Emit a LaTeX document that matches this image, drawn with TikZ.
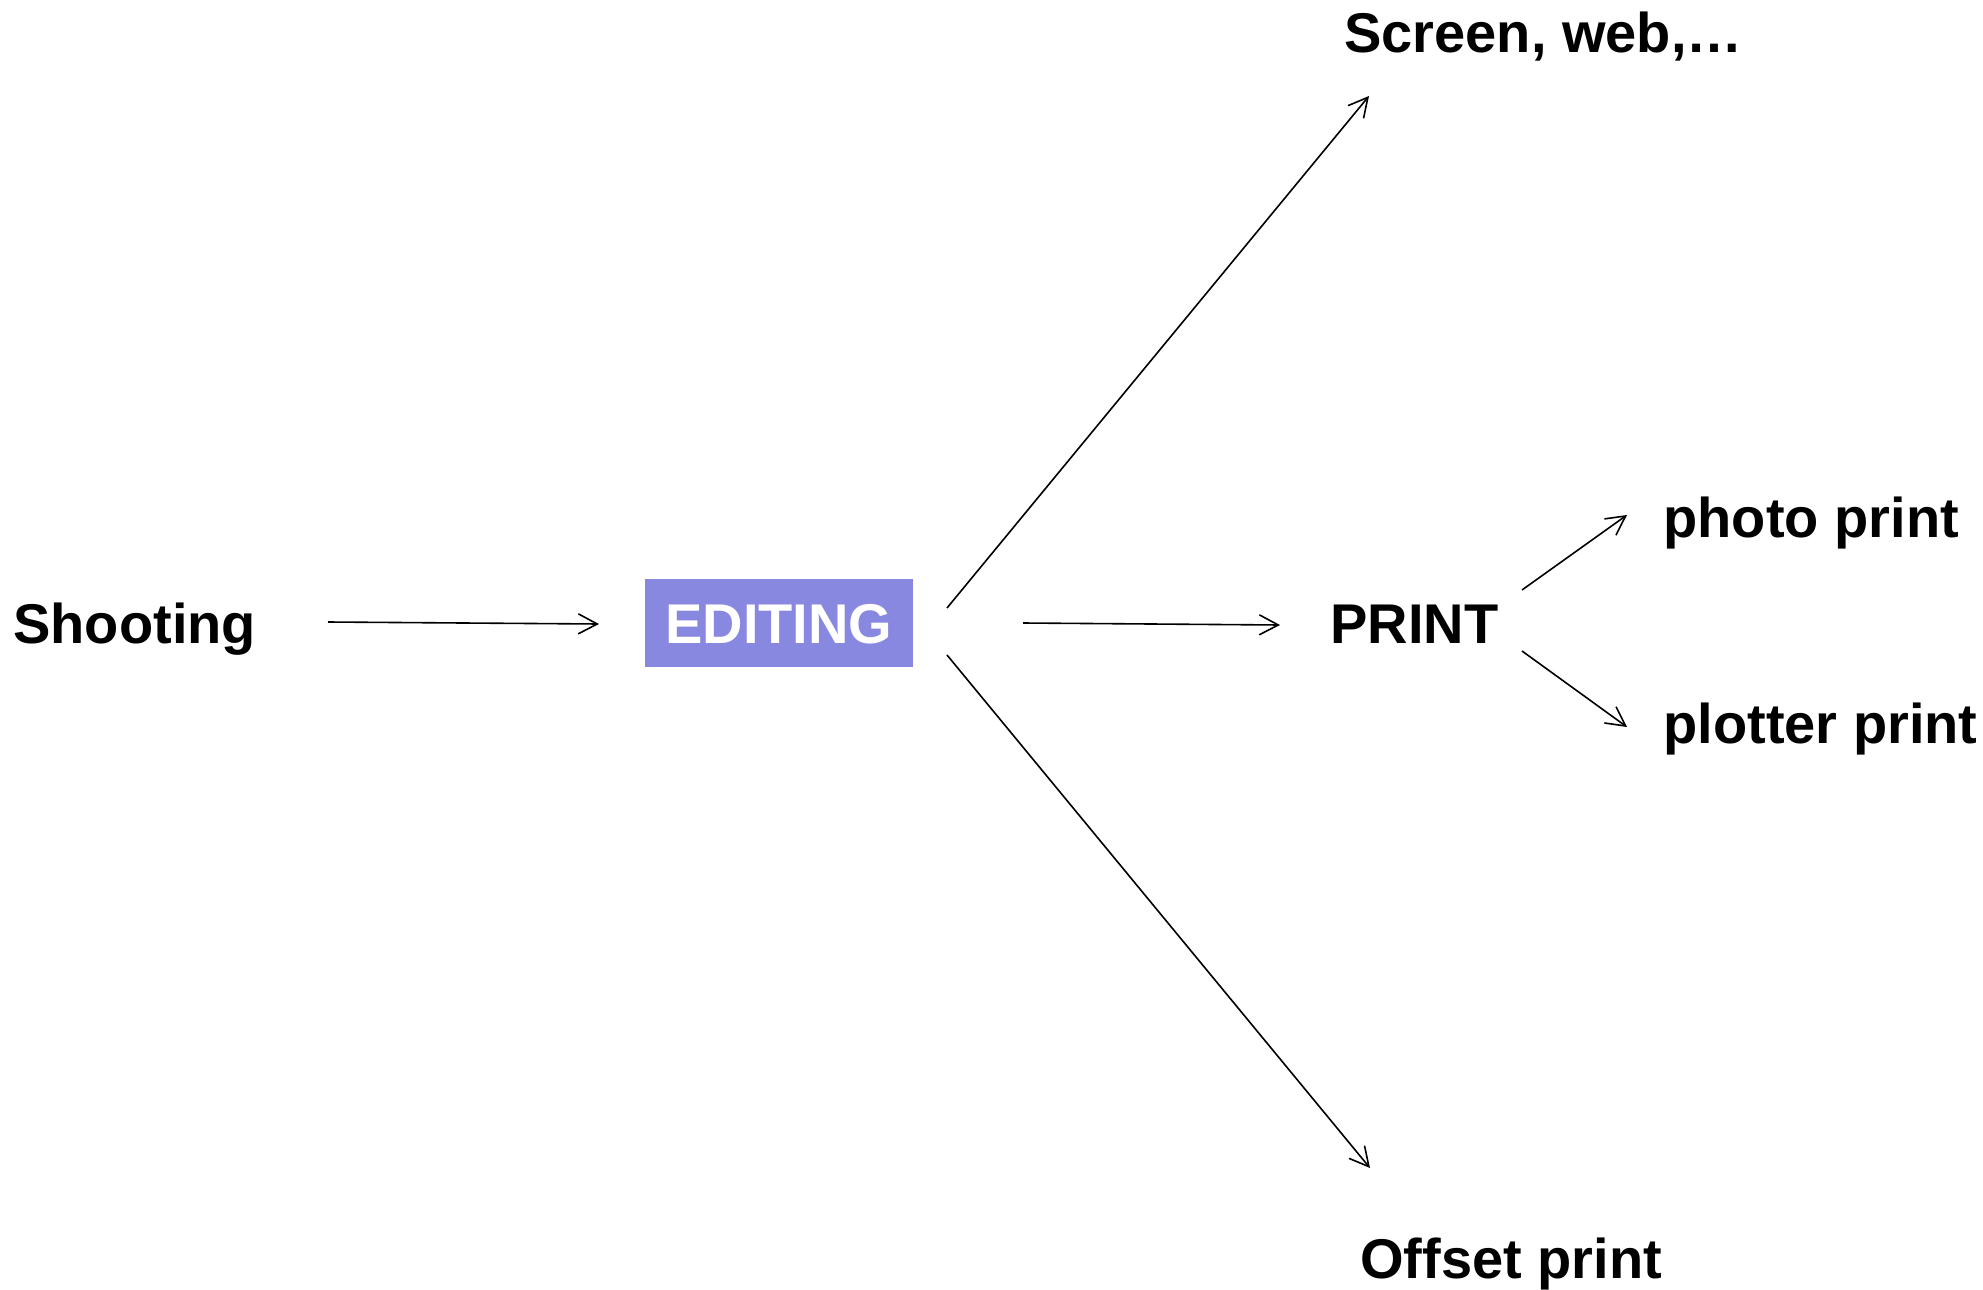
\documentclass[tikz,border=0pt]{standalone}
\usepackage{fontspec}
\setmainfont{Liberation Sans}
\usetikzlibrary{arrows.meta}
\definecolor{editfill}{RGB}{136,136,224}
\begin{document}
\begin{tikzpicture}[x=0.5pt,y=-0.5pt,
  lbl/.style={anchor=base west,inner sep=0pt,font=\fontsize{28pt}{33pt}\selectfont\bfseries},
  arr/.style={line width=0.8pt,-{Straight Barb[length=9.5pt,width=10pt,line width=0.8pt]}}]
\useasboundingbox (0,0) rectangle (1983,1290);
\node[lbl] (shoot) at (13,643) {Shooting};
\node[fill=editfill,minimum width=134pt,minimum height=44pt,inner sep=0pt] (edit) at (779,623) {};
\node[lbl,text=white] (edittext) at (665,643) {EDITING};
\node[lbl] (print) at (1330,643) {PRINT};
\node[lbl] (screen) at (1344,53) {Screen, web,…};
\node[lbl] (offset) at (1360,1278) {Offset print};
\node[lbl] (photo) at (1663,537) {photo print};
\node[lbl] (plotter) at (1663,743) {plotter print};
\coordinate (s1) at (328,622);
\coordinate (e1) at (599,624);
\coordinate (s2) at (1023,623);
\coordinate (e2) at (1280,625);
\coordinate (s3) at (947,608);
\coordinate (e3) at (1369,96);
\coordinate (s4) at (947,655);
\coordinate (e4) at (1370,1168);
\coordinate (s5) at (1522,590);
\coordinate (e5) at (1627,515);
\coordinate (s6) at (1522,651);
\coordinate (e6) at (1627,727);
\draw[arr] (s1) -- (e1);
\draw[arr] (s2) -- (e2);
\draw[arr] (s3) -- (e3);
\draw[arr] (s4) -- (e4);
\draw[arr] (s5) -- (e5);
\draw[arr] (s6) -- (e6);
\end{tikzpicture}
\end{document}
